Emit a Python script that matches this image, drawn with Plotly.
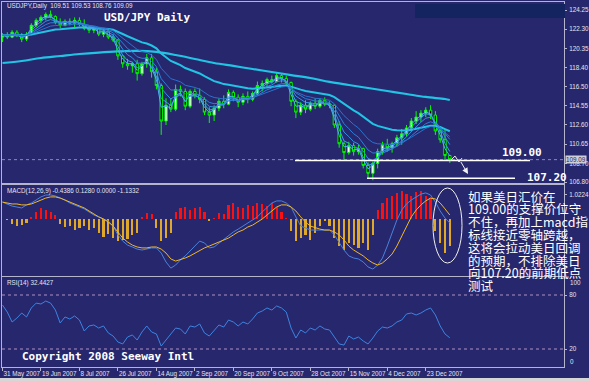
import plotly.graph_objects as go
import pandas as pd

# ---------------- data ----------------
date_labels = ["31 May 2007", "19 Jun 2007", "8 Jul 2007", "26 Jul 2007", "14 Aug 2007", "2 Sep 2007",
               "20 Sep 2007", "9 Oct 2007", "28 Oct 2007", "15 Nov 2007", "4 Dec 2007", "23 Dec 2007"]
date_ticks = [0, 8, 16, 24, 32, 40, 48, 56, 64, 72, 80, 88]

opens = [121.5, 121.7, 121.5, 122.0, 121.7, 121.3, 121.8, 122.7, 123.2, 123.5,
         123.8, 123.6, 123.0, 122.7, 123.1, 122.9, 123.2, 122.8, 122.4, 122.2,
         122.4, 121.8, 122.1, 121.5, 121.2, 119.6, 118.8, 118.6, 118.8, 117.8,
         118.8, 119.4, 118.0, 116.6, 113.0, 114.6, 114.2, 116.2, 116.0, 114.5,
         116.0, 115.6, 115.2, 113.9, 113.6, 114.3, 115.0, 114.7, 115.9, 115.4,
         114.9, 115.5, 115.2, 115.8, 116.6, 116.8, 117.2, 117.0, 117.6, 117.3,
         116.9, 115.0, 113.9, 114.6, 114.2, 114.8, 114.5, 115.1, 114.7, 114.6,
         112.6, 110.7, 109.8, 110.5, 109.9, 110.2, 108.5, 107.7, 108.7, 109.9,
         110.6, 110.3, 110.7, 111.3, 111.7, 112.3, 113.0, 113.4, 113.8, 114.1,
         113.6, 112.0, 111.1, 109.51]
highs = [121.9, 122.0, 122.2, 122.2, 121.9, 122.0, 122.9, 123.4, 123.7, 124.0,
         124.2, 123.7, 123.4, 123.3, 123.4, 123.5, 123.5, 123.3, 122.7, 122.6,
         122.5, 122.3, 122.2, 121.8, 121.3, 119.6, 119.3, 119.0, 119.2, 119.0,
         119.8, 119.8, 118.4, 116.8, 115.3, 115.3, 116.7, 116.6, 116.3, 116.2,
         116.3, 116.3, 115.4, 114.4, 114.6, 115.3, 115.6, 116.2, 116.1, 115.7,
         115.8, 116.0, 116.0, 117.0, 117.1, 117.4, 117.6, 117.9, 117.8, 117.6,
         117.0, 115.2, 114.9, 115.1, 115.0, 115.3, 115.3, 115.4, 115.0, 114.7,
         113.0, 110.9, 110.9, 110.8, 110.6, 110.3, 108.8, 108.9, 110.2, 110.9,
         111.2, 110.9, 111.6, 112.2, 112.6, 113.3, 114.0, 114.1, 114.4, 114.6,
         114.0, 112.3, 112.2, 109.53]
lows = [121.0, 121.3, 121.4, 121.5, 121.0, 121.1, 121.7, 122.5, 122.9, 123.2,
        123.4, 122.8, 122.4, 122.6, 122.7, 122.5, 122.6, 122.2, 121.9, 121.9,
        121.6, 121.5, 121.3, 121.0, 119.2, 118.4, 118.2, 117.9, 117.1, 117.6,
        118.4, 117.4, 116.2, 111.6, 112.6, 113.9, 114.0, 115.5, 114.1, 114.3,
        115.3, 114.8, 113.6, 112.8, 113.0, 114.0, 114.3, 114.6, 115.0, 114.4,
        114.6, 114.8, 115.0, 115.6, 116.0, 116.4, 116.8, 116.9, 116.9, 116.6,
        114.5, 113.3, 113.6, 113.8, 114.0, 114.2, 114.3, 114.5, 114.3, 112.3,
        110.3, 109.1, 109.6, 109.5, 109.6, 108.2, 107.2, 107.0, 108.2, 109.6,
        109.9, 109.8, 110.4, 110.6, 111.4, 111.9, 112.7, 112.9, 113.4, 113.2,
        111.6, 110.8, 109.0, 108.76]
closes = [121.7, 121.5, 122.0, 121.7, 121.3, 121.8, 122.7, 123.2, 123.5, 123.8,
          123.6, 123.0, 122.7, 123.1, 122.9, 123.2, 122.8, 122.4, 122.2, 122.4,
          121.8, 122.1, 121.5, 121.2, 119.6, 118.8, 118.6, 118.8, 117.8, 118.8,
          119.4, 118.0, 116.6, 113.0, 114.6, 114.2, 116.2, 116.0, 114.5, 116.0,
          115.6, 115.2, 113.9, 113.6, 114.3, 115.0, 114.7, 115.9, 115.4, 114.9,
          115.5, 115.2, 115.8, 116.6, 116.8, 117.2, 117.0, 117.6, 117.3, 116.9,
          115.0, 113.9, 114.6, 114.2, 114.8, 114.5, 115.1, 114.7, 114.6, 112.6,
          110.7, 109.8, 110.5, 109.9, 110.2, 108.5, 107.7, 108.7, 109.9, 110.6,
          110.3, 110.7, 111.3, 111.7, 112.3, 113.0, 113.4, 113.8, 114.1, 113.6,
          112.0, 111.1, 109.5, 109.09]
bars = list(range(len(closes)))

# long moving average
long_ma_x = [0, 4, 8, 12, 16, 20, 24, 28, 32, 36, 40, 44, 48, 52, 56, 60, 64, 68, 72, 76, 80, 84, 88, 92, 93]
long_ma = [118.88, 119.08, 119.39, 119.59, 119.79, 119.94, 120.05, 120.10, 120.0, 119.69, 119.29, 118.88,
           118.58, 118.27, 117.97, 117.66, 117.36, 116.96, 116.65, 116.35, 116.04, 115.74, 115.44, 115.23, 115.13]

macd_hist = [0, -0.05, -0.2, -0.3, -0.25, -0.15, 0.1, 0.3, 0.45, 0.4,
             0.3, 0.15, -0.2, -0.35, -0.3, -0.45, -0.4, -0.3, -0.45, -0.4,
             -0.6, -0.75, -0.65, -0.8, -0.95, -0.9, -0.85, -0.7, -0.6, 0.1,
             0.25, 0.2, -0.4, -0.95, -0.8, -0.6, 0.3, 0.45, 0.5, 0.4,
             0.45, 0.5, 0.3, -0.1, 0.05, 0.25, 0.2, 0.6, 0.7, 0.5,
             0.45, 0.6, 0.55, 0.7, 0.65, 0.55, 0.7, 0.5, 0.3, 0.05,
             -0.5, -0.95, -0.8, -0.7, -0.9, -0.6, -0.3, -0.1, -0.3, -0.8,
             -1.15, -1.3, -1.0, -1.1, -1.25, -1.0, -1.3, -0.7, 0.4, 0.7,
             0.9, 1.0, 1.1, 1.2, 1.05, 1.0, 1.15, 1.2, 1.0, 0.9,
             -0.5, -1.0, -1.45, -1.13]
macd_main = [0.72, 0.64, 0.55, 0.51, 0.47, 0.60, 0.68, 0.81, 0.94, 1.02,
             1.02, 0.98, 0.89, 0.81, 0.68, 0.60, 0.51, 0.43, 0.30, 0.17,
             0.09, 0.0, -0.09, -0.30, -0.68, -0.94, -1.11, -1.19, -1.28, -1.32,
             -1.28, -1.23, -1.23, -1.45, -1.83, -2.09, -1.96, -1.74, -1.57, -1.36,
             -1.19, -0.94, -1.02, -1.23, -1.19, -1.02, -0.85, -0.68, -0.55, -0.43,
             -0.30, -0.17, -0.04, 0.09, 0.30, 0.51, 0.68, 0.77, 0.77, 0.68,
             0.51, 0.09, -0.30, -0.38, -0.47, -0.47, -0.47, -0.47, -0.47, -0.68,
             -1.02, -1.32, -1.57, -1.66, -1.70, -1.83, -2.04, -2.13, -1.96, -1.66,
             -1.15, -0.55, -0.04, 0.38, 0.64, 0.81, 0.94, 1.06, 1.11, 1.02,
             0.72, 0.34, 0.04, -0.17]
macd_signal = [0.72, 0.68, 0.64, 0.64, 0.60, 0.60, 0.64, 0.72, 0.81, 0.89,
               0.94, 0.94, 0.89, 0.81, 0.72, 0.64, 0.55, 0.47, 0.34, 0.21,
               0.09, 0.0, -0.13, -0.30, -0.55, -0.81, -0.98, -1.11, -1.19, -1.23,
               -1.23, -1.19, -1.19, -1.28, -1.45, -1.70, -1.79, -1.74, -1.66, -1.57,
               -1.45, -1.32, -1.23, -1.15, -1.06, -0.98, -0.89, -0.81, -0.68, -0.55,
               -0.47, -0.34, -0.26, -0.13, 0.0, 0.17, 0.34, 0.51, 0.60, 0.60,
               0.51, 0.34, 0.09, -0.13, -0.30, -0.38, -0.43, -0.47, -0.47, -0.55,
               -0.68, -0.89, -1.15, -1.32, -1.45, -1.57, -1.74, -1.87, -1.96, -1.87,
               -1.70, -1.49, -1.15, -0.72, -0.30, 0.09, 0.38, 0.60, 0.77, 0.89,
               0.85, 0.68, 0.43, 0.17]
rsi = [68.9, 61, 50, 54.4, 60, 55.6, 65.6, 71, 70, 73.3,
       71, 63.3, 48.9, 55.6, 53.3, 56.7, 52.2, 40, 45.6, 46.7,
       43.3, 45.6, 37.8, 34.4, 27.8, 25.6, 33.3, 35.6, 30, 38.9,
       45.6, 38.9, 36.7, 23.3, 30, 36.7, 43.3, 42.2, 36.7, 45.6,
       44.4, 47.8, 37.8, 34.4, 41.1, 46.7, 44.4, 52.2, 50, 45.6,
       50, 47.8, 53.3, 60, 62.2, 65.6, 63.3, 67.8, 65.6, 61.1,
       43.3, 32.2, 41.1, 37.8, 43.3, 41.1, 45.6, 42.2, 41.1, 33.3,
       25.6, 24.4, 34.4, 31.1, 33.3, 28.9, 25.6, 32.2, 40, 44.4,
       43.3, 45.6, 50, 52.2, 58.9, 60, 57.8, 60, 63.3, 65.6,
       57.8, 45.6, 36.7, 32.44]

price_ticks = [124.25, 122.30, 120.35, 118.40, 116.50, 114.55, 112.60, 110.65, 108.70, 106.80]
support_level = 109.00
prior_low = 107.20
last_price = 109.09

note_lines = ["如果美日汇价在", "109.00的支撑价位守", "不住，再加上macd指", "标线接近零轴跨越，",
              "这将会拉动美日回调", "的预期，不排除美日", "向107.20的前期低点", "测试"]

# ---------------- styling ----------------
BG = "#27276e"
AX = "#b4b4cc"
TXT = "#e4e4ec"
W, H = 589, 381
L, R, T, B = 2, 25, 2, 14
PW, PH = W - L - R, H - T - B
SLOT = 4.81          # pixels per bar
X0 = -0.1            # bar index at the left edge


def fx(px):
    return (px - L) / PW


def fy(py):
    return (H - B - py) / PH


def bx(px):  # pixel x -> bar index
    return (px - L) / SLOT + X0


ser = pd.Series(closes)
ribbon_spans = [2, 3, 5, 8, 13]
ribbon_cols = ["#4cb4f4", "#3ea2ec", "#3490e2", "#2e80d8", "#2a72cc"]

fig = go.Figure()

# moving averages
fig.add_trace(go.Scatter(x=long_ma_x, y=long_ma, mode="lines", line=dict(color="#22c4e4", width=2.2, shape="spline"),
                         xaxis="x", yaxis="y", hoverinfo="skip", showlegend=False))
fig.add_trace(go.Scatter(x=bars, y=ser.ewm(span=27, adjust=False).mean(), mode="lines",
                         line=dict(color="#22c4e4", width=2), xaxis="x", yaxis="y", hoverinfo="skip", showlegend=False))
for sp, col in zip(ribbon_spans, ribbon_cols):
    fig.add_trace(go.Scatter(x=bars, y=ser.ewm(span=sp, adjust=False).mean(), mode="lines",
                             line=dict(color=col, width=1), xaxis="x", yaxis="y", hoverinfo="skip", showlegend=False))

fig.add_trace(go.Candlestick(x=bars, open=opens, high=highs, low=lows, close=closes,
                             increasing=dict(line=dict(color="#00ff00", width=1), fillcolor="#ffffff"),
                             decreasing=dict(line=dict(color="#00ff00", width=1), fillcolor="#000000"),
                             whiskerwidth=0, xaxis="x", yaxis="y", showlegend=False, hoverinfo="skip"))

# MACD
fig.add_trace(go.Bar(x=bars, y=macd_hist, width=0.45,
                     marker=dict(color=["#ff1010" if v > 0 else "#e0a828" for v in macd_hist], line=dict(width=0)),
                     xaxis="x2", yaxis="y2", showlegend=False, hoverinfo="skip"))
fig.add_trace(go.Scatter(x=bars, y=macd_main, mode="lines", line=dict(color="#4a82dc", width=1),
                         xaxis="x2", yaxis="y2", showlegend=False, hoverinfo="skip"))
fig.add_trace(go.Scatter(x=bars, y=macd_signal, mode="lines", line=dict(color="#f0b828", width=1),
                         xaxis="x2", yaxis="y2", showlegend=False, hoverinfo="skip"))

# RSI
fig.add_trace(go.Scatter(x=bars, y=rsi, mode="lines", line=dict(color="#3c84e0", width=1),
                         xaxis="x3", yaxis="y3", showlegend=False, hoverinfo="skip"))

xr = [X0, X0 + PW / SLOT]
small = dict(family="Liberation Sans", size=6.3, color=TXT)
common_x = dict(range=xr, showgrid=False, zeroline=False, showline=True, mirror=True, linecolor=AX, linewidth=1,
                automargin=False)
common_y = dict(showgrid=False, zeroline=False, showline=True, mirror=True, linecolor=AX, linewidth=1,
                side="right", ticks="outside", ticklen=2, tickcolor=AX, tickfont=small, automargin=False,
                ticklabelstandoff=1)

fig.update_layout(
    template="none",
    width=W, height=H, margin=dict(l=L, r=R, t=T, b=B, autoexpand=False),
    paper_bgcolor=BG, plot_bgcolor=BG, showlegend=False, bargap=0,
    xaxis=dict(domain=[0, 1], anchor="y", showticklabels=False, rangeslider=dict(visible=False), **common_x),
    xaxis2=dict(domain=[0, 1], anchor="y2", matches="x", showticklabels=False, **common_x),
    xaxis3=dict(domain=[0, 1], anchor="y3", matches="x", tickvals=date_ticks, ticktext=date_labels,
                ticks="outside", ticklen=3, tickcolor=AX, tickfont=small, ticklabelposition="outside right",
                tickangle=0, **common_x),
    yaxis=dict(domain=[fy(183), fy(2)], range=[124.25 - 173 / 9.87, 124.25 + 8 / 9.87], anchor="x",
               tickvals=price_ticks, tickformat=".2f", **common_y),
    yaxis2=dict(domain=[fy(276), fy(185)], range=[(219 - 276) / 23.5, (219 - 185) / 23.5], anchor="x2",
                tickvals=[1.0224], tickformat=".4f", **common_y),
    yaxis3=dict(domain=[fy(367), fy(277)], range=[0, 100], anchor="x3", tickvals=[20, 80], **common_y),
)

shapes = [
    # top-right dark box
    dict(type="rect", xref="paper", yref="paper", x0=fx(415), x1=fx(565), y0=fy(18), y1=fy(4),
         fillcolor="#132460", line=dict(width=0)),
    # bottom light strip
    dict(type="rect", xref="paper", yref="paper", x0=fx(0), x1=fx(W), y0=fy(381), y1=fy(378),
         fillcolor="#d6d6d6", line=dict(width=0)),
    # current price dotted line
    dict(type="line", xref="paper", yref="y", x0=0, x1=1, y0=last_price, y1=last_price,
         line=dict(color="#8a8aa8", width=1, dash="dot")),
    # support & prior low lines
    dict(type="line", xref="x", yref="y", x0=bx(295), x1=bx(530), y0=support_level, y1=support_level,
         line=dict(color="#ffffff", width=1.5)),
    dict(type="line", xref="x", yref="y", x0=bx(367), x1=bx(515), y0=prior_low, y1=prior_low,
         line=dict(color="#ffffff", width=1.5)),
    # RSI levels
    dict(type="line", xref="paper", yref="y3", x0=0, x1=1, y0=80, y1=80, line=dict(color="#b090c0", width=1, dash="dot")),
    dict(type="line", xref="paper", yref="y3", x0=0, x1=1, y0=20, y1=20, line=dict(color="#b090c0", width=1, dash="dot")),
    # ellipse on MACD
    dict(type="circle", xref="x", yref="y2", x0=bx(433), x1=bx(462), y0=(219 - 263) / 23.5, y1=(219 - 188) / 23.5,
         line=dict(color="#f0f0f0", width=1)),
    # zigzag
    dict(type="path", xref="x", yref="y",
         path=f"M {bx(450)},{108.95} L {bx(455)},{109.45} L {bx(459)},{108.85} L {bx(462)},{109.25}",
         line=dict(color="#f0f0f0", width=1)),
]
fig.update_layout(shapes=shapes)

mono = dict(family="DejaVu Sans Mono", size=11, color="#ffffff")
ann = [
    dict(xref="paper", yref="paper", x=fx(5), y=fy(6), text="USDJPY,Daily  109.51 109.53 108.76 109.09",
         font=small, xanchor="left", yanchor="middle", showarrow=False),
    dict(xref="paper", yref="paper", x=fx(102), y=fy(17), text="<b>USD/JPY Daily</b>",
         font=mono, xanchor="left", yanchor="middle", showarrow=False),
    dict(xref="paper", yref="paper", x=fx(5), y=fy(191), text="MACD(12,26,9) -0.4386 0.1280 0.0000 -1.1332",
         font=small, xanchor="left", yanchor="middle", showarrow=False),
    dict(xref="paper", yref="paper", x=fx(5), y=fy(283), text="RSI(14) 32.4427",
         font=small, xanchor="left", yanchor="middle", showarrow=False),
    dict(xref="paper", yref="paper", x=fx(20), y=fy(356), text="<b>Copyright 2008 Seeway Intl</b>",
         font=mono, xanchor="left", yanchor="middle", showarrow=False),
    dict(xref="x", yref="y", x=bx(500), y=support_level, text="<b>109.00</b>", yshift=8,
         font=mono, xanchor="left", yanchor="middle", showarrow=False),
    dict(xref="x", yref="y", x=bx(525), y=prior_low, text="<b>107.20</b>", yshift=1,
         font=mono, xanchor="left", yanchor="middle", showarrow=False),
    dict(xref="paper", yref="y", x=1, y=last_price, text="109.09", xshift=1, bgcolor="#cfcfd8",
         font=dict(family="Liberation Sans", size=6.3, color="#1e1e60"), xanchor="left", yanchor="middle",
         showarrow=False, borderpad=0),
    dict(xref="paper", yref="y3", x=1, y=100, text="100", xshift=4, font=small, xanchor="left", yanchor="top", showarrow=False),
    dict(xref="paper", yref="y3", x=1, y=0, text="0", xshift=4, font=small, xanchor="left", yanchor="bottom", showarrow=False),
    dict(xref="x", yref="y", x=bx(468), y=107.63, ax=bx(460), ay=109.0, axref="x", ayref="y", text="",
         showarrow=True, arrowhead=2, arrowsize=1.2, arrowwidth=1, arrowcolor="#f0f0f0"),
]
for k, line in enumerate(note_lines):
    ann.append(dict(xref="paper", yref="paper", x=fx(466), y=fy(196 + k * 12.8), text=line,
                    font=dict(family="Noto Sans CJK SC", size=12.5, color="#ffffff"),
                    xanchor="left", yanchor="middle", showarrow=False))
fig.update_layout(annotations=ann)

fig.write_html("out.html", config={"displayModeBar": False, "staticPlot": True},
               post_script="document.body.style.margin='0';document.body.style.overflow='hidden';")
